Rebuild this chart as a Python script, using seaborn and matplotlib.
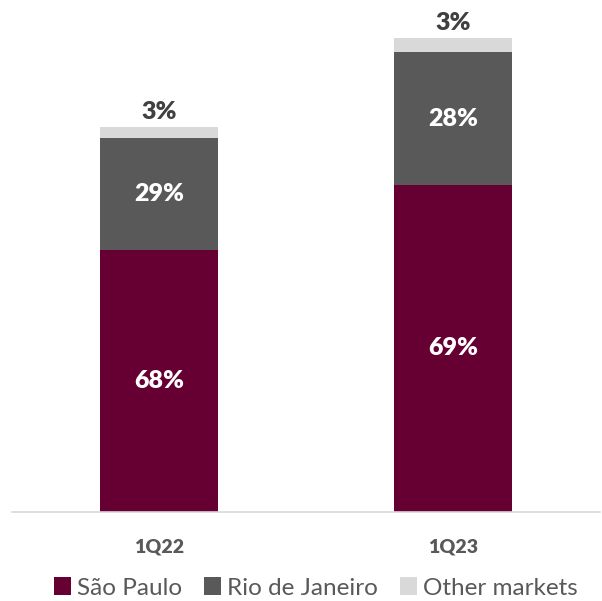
import matplotlib
matplotlib.use("Agg")
import matplotlib.pyplot as plt
import seaborn as sns
import numpy as np
import pandas as pd
from matplotlib.patches import Patch

periods = ["1Q22", "1Q23"]
totals = [100.0, 123.1]          # relative size of each period
share_sp = [68, 69]              # São Paulo, %
share_rj = [29, 28]              # Rio de Janeiro, %
share_ot = [3, 3]                # Other markets, %
series_names = ["São Paulo", "Rio de Janeiro", "Other markets"]
colors = ["#660033", "#595959", "#D9D9D9"]

sns.set_theme(style="white")
plt.rcParams["font.family"] = ["Lato", "DejaVu Sans"]

tot = np.array(totals)
sp = tot * np.array(share_sp) / 100
rj = tot * np.array(share_rj) / 100
ot = tot * np.array(share_ot) / 100

fig = plt.figure(figsize=(6.02, 6.01), dpi=100)
ax = fig.add_axes([12 / 602, 89 / 601, 588 / 602, 502 / 601])

df = pd.DataFrame({"period": periods, "sp": sp, "rj": rj, "ot": ot})
common = dict(x="period", width=0.4, saturation=1, linewidth=0, ax=ax)
sns.barplot(data=df, y="sp", color=colors[0], **common)
sns.barplot(data=df, y="rj", color=colors[1], bottom=sp, **common)
sns.barplot(data=df, y="ot", color=colors[2], bottom=sp + rj, **common)

ax.set_xlim(-0.5, 1.5)
ax.set_ylim(0, 502 / (474 / 123.1))

for i in range(len(periods)):
    ax.text(i, sp[i] / 2, f"{share_sp[i]}%", ha="center", va="center",
            color="white", fontsize=18, fontweight="heavy")
    ax.text(i, sp[i] + rj[i] / 2, f"{share_rj[i]}%", ha="center",
            va="center", color="white", fontsize=18, fontweight="heavy")
    ax.annotate(f"{share_ot[i]}%", xy=(i, tot[i]), xytext=(0, 3),
                textcoords="offset points", ha="center", va="bottom",
                color="#404040", fontsize=18, fontweight="heavy")

ax.set_xlabel("")
ax.set_ylabel("")
ax.set_yticks([])
for s in ["top", "right", "left"]:
    ax.spines[s].set_visible(False)
ax.spines["bottom"].set_color("#D9D9D9")
ax.spines["bottom"].set_linewidth(1.2)
ax.tick_params(axis="x", length=0, pad=19, labelsize=14,
               labelcolor="#595959")
for lbl in ax.get_xticklabels():
    lbl.set_fontweight("heavy")

handles = [Patch(facecolor=c, edgecolor="none") for c in colors]
fig.legend(handles, series_names, loc="center",
           bbox_to_anchor=(0.525, 1 - 588 / 601),
           ncol=3, frameon=False, fontsize=17.5, handlelength=0.7,
           handleheight=0.7, handletextpad=0.25, columnspacing=0.9,
           labelcolor="#595959")

fig.savefig("out.png", dpi=100)
